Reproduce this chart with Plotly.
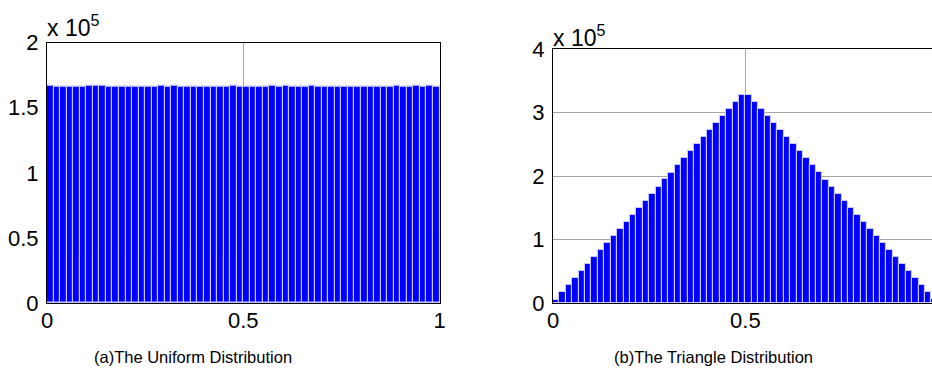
import numpy as np
import plotly.graph_objects as go

# 60-bin histograms of 1e7 samples on [0, 1)
n_bins = 60
bin_centers = (np.arange(n_bins) + 0.5) / n_bins

uniform_counts = [
    166900, 166500, 166500, 166000, 166400, 166400, 166800, 167300, 166900, 166500,
    166500, 166400, 165900, 166500, 166000, 166500, 166500, 166800, 165900, 166800,
    166500, 166100, 166500, 166500, 166000, 166500, 166500, 166100, 166700, 166000,
    166400, 166000, 166400, 166400, 166900, 166300, 166800, 166500, 166500, 166300,
    166600, 166300, 166300, 166500, 166500, 166300, 166000, 166500, 166500, 166500,
    166500, 166000, 166500, 166800, 166400, 166400, 166800, 166300, 166800, 166400,
]

triangle_counts = [
    5500, 16800, 27600, 39000, 50100, 61000, 72300, 83200, 94500, 105400,
    116800, 127700, 139000, 150100, 161000, 172400, 183200, 194500, 205500, 216800,
    227700, 239000, 250100, 261000, 272300, 283200, 294500, 305500, 316800, 327600,
    327700, 316600, 305700, 294300, 283400, 272100, 261200, 249900, 238800, 227900,
    216600, 205700, 194300, 183400, 172100, 161200, 149900, 138800, 127900, 116600,
    105700, 94300, 83400, 72100, 61200, 49900, 38800, 27900, 16600, 5600,
]

x_tick_vals = [0, 0.5, 1]
x_tick_text = ["0", "0.5", "1"]
uniform_y_ticks = [0, 50000, 100000, 150000, 200000]
uniform_y_text = ["0", "0.5", "1", "1.5", "2"]
triangle_y_ticks = [0, 100000, 200000, 300000, 400000]
triangle_y_text = ["0", "1", "2", "3", "4"]

captions = ["(a)The Uniform Distribution", "(b)The Triangle Distribution"]

FONT = "Liberation Sans, Arial, sans-serif"
W, H = 932, 385
BAR_BLUE = "#0000ff"
EDGE = "#c8c8ff"
GRID = "#a6a6a6"

fig = go.Figure()

fig.add_trace(go.Bar(
    x=bin_centers, y=uniform_counts, width=1 / n_bins,
    marker=dict(color=BAR_BLUE, line=dict(color=EDGE, width=1.1)),
    xaxis="x", yaxis="y", showlegend=False,
))
fig.add_trace(go.Bar(
    x=bin_centers, y=triangle_counts, width=1 / n_bins,
    marker=dict(color=BAR_BLUE, line=dict(color=EDGE, width=1.1)),
    xaxis="x2", yaxis="y2", showlegend=False,
))

def px_x(p):
    return p / W

def px_y(p):
    return (H - p) / H

common_x = dict(
    showline=True, linecolor="black", linewidth=1.2, mirror=True,
    showgrid=True, gridcolor=GRID, gridwidth=1,
    ticks="", zeroline=False, automargin=False,
    tickmode="array", tickvals=x_tick_vals, ticktext=x_tick_text,
    tickfont=dict(family=FONT, size=22, color="black"),
    ticklabelstandoff=-3,
)
common_y = dict(
    showline=True, linecolor="black", linewidth=1.2, mirror=True,
    showgrid=True, gridcolor=GRID, gridwidth=1,
    ticks="", zeroline=False, automargin=False, tickmode="array",
    tickfont=dict(family=FONT, size=22, color="black"),
    ticklabelstandoff=3,
)

fig.update_layout(
    width=W, height=H,
    margin=dict(l=0, r=0, t=0, b=0, autoexpand=False),
    paper_bgcolor="white", plot_bgcolor="white",
    bargap=0,
    xaxis=dict(common_x, domain=[px_x(47), px_x(439.5)], range=[0, 1], anchor="y"),
    yaxis=dict(common_y, domain=[px_y(303), px_y(42.7)], range=[0, 200000],
               tickvals=uniform_y_ticks, ticktext=uniform_y_text, anchor="x"),
    xaxis2=dict(common_x, domain=[px_x(553), 1.0], range=[0, 0.985], anchor="y2"),
    yaxis2=dict(common_y, domain=[px_y(303), px_y(49)], range=[0, 400000],
                tickvals=triangle_y_ticks, ticktext=triangle_y_text, anchor="x2"),
)

# exponent labels above each y axis
for xp, yp in [(45, 43), (551, 53)]:
    fig.add_annotation(
        x=px_x(xp), y=px_y(yp), xref="paper", yref="paper",
        xanchor="left", yanchor="bottom", showarrow=False,
        text="x 10<sup>5</sup>",
        font=dict(family=FONT, size=23, color="black"),
    )

# captions under each panel
for cx, text in zip([193, 713], captions):
    fig.add_annotation(
        x=px_x(cx), y=px_y(357), xref="paper", yref="paper",
        xanchor="center", yanchor="middle", showarrow=False,
        text=text, font=dict(family=FONT, size=16.5, color="black"),
    )

fig.write_html("out.html")
